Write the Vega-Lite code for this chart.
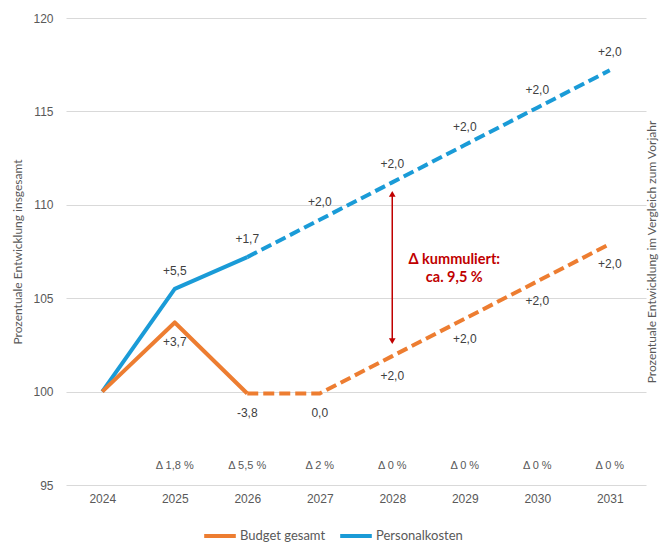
{
  "$schema": "https://vega.github.io/schema/vega-lite/v6.json",
  "width": 580,
  "height": 467,
  "autosize": {"type": "none"},
  "padding": {"left": 66, "top": 18, "right": 20, "bottom": 57},
  "config": {"view": {"stroke": null}, "font": "Liberation Sans"},
  "datasets": {
    "series": [
      {"year": 2024, "series": "Personalkosten", "value": 100.0, "label": null},
      {"year": 2025, "series": "Personalkosten", "value": 105.5, "label": "+5,5"},
      {"year": 2026, "series": "Personalkosten", "value": 107.2, "label": "+1,7"},
      {"year": 2027, "series": "Personalkosten", "value": 109.2, "label": "+2,0"},
      {"year": 2028, "series": "Personalkosten", "value": 111.2, "label": "+2,0"},
      {"year": 2029, "series": "Personalkosten", "value": 113.2, "label": "+2,0"},
      {"year": 2030, "series": "Personalkosten", "value": 115.2, "label": "+2,0"},
      {"year": 2031, "series": "Personalkosten", "value": 117.2, "label": "+2,0"},
      {"year": 2024, "series": "Budget gesamt", "value": 100.0, "label": null},
      {"year": 2025, "series": "Budget gesamt", "value": 103.7, "label": "+3,7"},
      {"year": 2026, "series": "Budget gesamt", "value": 99.9, "label": "-3,8"},
      {"year": 2027, "series": "Budget gesamt", "value": 99.9, "label": "0,0"},
      {"year": 2028, "series": "Budget gesamt", "value": 101.9, "label": "+2,0"},
      {"year": 2029, "series": "Budget gesamt", "value": 103.9, "label": "+2,0"},
      {"year": 2030, "series": "Budget gesamt", "value": 105.9, "label": "+2,0"},
      {"year": 2031, "series": "Budget gesamt", "value": 107.9, "label": "+2,0"}
    ],
    "delta": [
      {"year": 2025, "pos": 96, "text": "Δ 1,8 %"},
      {"year": 2026, "pos": 96, "text": "Δ 5,5 %"},
      {"year": 2027, "pos": 96, "text": "Δ 2 %"},
      {"year": 2028, "pos": 96, "text": "Δ 0 %"},
      {"year": 2029, "pos": 96, "text": "Δ 0 %"},
      {"year": 2030, "pos": 96, "text": "Δ 0 %"},
      {"year": 2031, "pos": 96, "text": "Δ 0 %"}
    ],
    "annot": [
      {"year": 2028, "top": 110.58, "bottom": 102.7, "mid": 107.04, "text": ["Δ kummuliert:", "ca. 9,5 %"]}
    ]
  },
  "encoding": {
    "x": {"field": "year", "type": "ordinal", "scale": {"type": "point", "padding": 0.5},
          "axis": {"title": null, "labelAngle": 0, "ticks": false, "domain": false, "labelPadding": 8,
                   "labelFontSize": 12, "labelColor": "#595959", "labelFont": "Liberation Sans", "orient": "bottom"}}
  },
  "layer": [
    {
      "data": {"name": "series"},
      "transform": [{"filter": "datum.year <= 2026"}],
      "mark": {"type": "line", "strokeWidth": 4, "strokeJoin": "round"},
      "encoding": {
        "y": {"field": "value", "type": "quantitative", "scale": {"domain": [95, 120], "nice": false, "zero": false},
              "axis": {"orient": "left", "values": [95, 100, 105, 110, 115, 120], "ticks": false, "domain": false,
                       "grid": true, "gridColor": "#D9D9D9", "gridWidth": 1, "labelPadding": 13, "labelFontSize": 12,
                       "labelColor": "#595959", "title": "Prozentuale Entwicklung insgesamt", "titleFont": "Lato",
                       "titleFontSize": 12, "titleFontWeight": "normal", "titleColor": "#595959", "titlePadding": 8}},
        "color": {"field": "series", "type": "nominal",
                  "scale": {"domain": ["Budget gesamt", "Personalkosten"], "range": ["#ED7D31", "#1A9BD7"]},
                  "legend": {"title": null, "orient": "none", "legendX": 136, "legendY": 500, "direction": "horizontal",
                             "symbolType": "stroke", "symbolSize": 1000, "symbolStrokeWidth": 4, "labelFont": "Lato",
                             "labelFontSize": 13, "labelColor": "#595959", "columnPadding": 6, "labelOffset": 2}},
        "detail": {"field": "series"}
      }
    },
    {
      "data": {"name": "series"},
      "transform": [{"filter": "datum.year >= 2026"}],
      "mark": {"type": "line", "strokeWidth": 4, "strokeDash": [11, 5]},
      "encoding": {
        "y": {"field": "value", "type": "quantitative", "axis": null},
        "color": {"field": "series", "type": "nominal", "legend": null}
      }
    },
    {
      "data": {"name": "series"},
      "transform": [{"filter": "datum.series === 'Personalkosten' && datum.label != null"}],
      "mark": {"type": "text", "dy": -18, "fontSize": 12, "color": "#404040", "font": "Liberation Sans"},
      "encoding": {
        "y": {"field": "value", "type": "quantitative", "axis": null},
        "text": {"field": "label"}
      }
    },
    {
      "data": {"name": "series"},
      "transform": [{"filter": "datum.series === 'Budget gesamt' && datum.label != null"}],
      "mark": {"type": "text", "dy": 20, "fontSize": 12, "color": "#404040", "font": "Liberation Sans"},
      "encoding": {
        "y": {"field": "value", "type": "quantitative", "axis": null},
        "text": {"field": "label"}
      }
    },
    {
      "data": {"name": "delta"},
      "mark": {"type": "text", "fontSize": 11, "color": "#595959", "font": "Liberation Sans"},
      "encoding": {
        "y": {"field": "pos", "type": "quantitative",
              "axis": {"orient": "right", "labels": false, "ticks": false, "domain": false, "grid": false,
                       "title": "Prozentuale Entwicklung im Vergleich zum Vorjahr", "titleAngle": 270,
                       "titleBaseline": "top", "titleFont": "Lato", "titleFontSize": 12, "titleFontWeight": "normal",
                       "titleColor": "#595959", "titlePadding": 0}},
        "text": {"field": "text"}
      }
    },
    {
      "data": {"name": "annot"},
      "mark": {"type": "rule", "color": "#C00000", "strokeWidth": 1.5},
      "encoding": {
        "y": {"field": "top", "type": "quantitative", "axis": null},
        "y2": {"field": "bottom"}
      }
    },
    {
      "data": {"name": "annot"},
      "mark": {"type": "point", "shape": "triangle-up", "filled": true, "color": "#C00000", "size": 45, "opacity": 1},
      "encoding": {
        "y": {"field": "top", "type": "quantitative", "axis": null}
      }
    },
    {
      "data": {"name": "annot"},
      "mark": {"type": "point", "shape": "triangle-down", "filled": true, "color": "#C00000", "size": 45, "opacity": 1},
      "encoding": {
        "y": {"field": "bottom", "type": "quantitative", "axis": null}
      }
    },
    {
      "data": {"name": "annot"},
      "mark": {"type": "text", "dx": 62, "fontSize": 14.5, "fontWeight": "bold", "color": "#C00000", "font": "Lato",
               "lineHeight": 18, "baseline": "middle"},
      "encoding": {
        "y": {"field": "mid", "type": "quantitative", "axis": null},
        "text": {"field": "text"}
      }
    }
  ]
}
